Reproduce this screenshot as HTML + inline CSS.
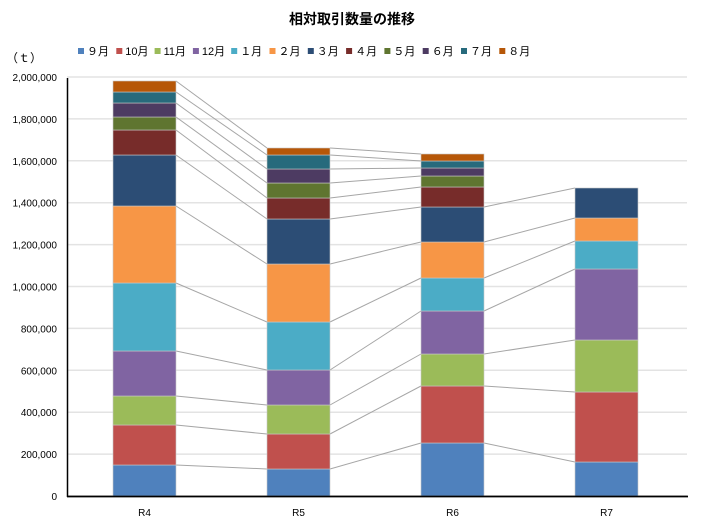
<!DOCTYPE html><html><head><meta charset="utf-8"><style>body{margin:0;background:#fff}svg{display:block;font-family:"Liberation Sans","Noto Sans CJK JP",sans-serif}</style></head><body>
<svg id="c" width="706" height="530" xmlns="http://www.w3.org/2000/svg"></svg>
<script>
var s=document.getElementById('c'),h='';
h+='<text x="352" y="24" text-anchor="middle" font-size="14" font-weight="bold">相対取引数量の推移</text>';
h+='<text x="6" y="62" font-size="12">（ｔ）</text>';
var cols=['#4F81BD','#C0504D','#9BBB59','#8064A2','#4BACC6','#F79646','#2C4D75','#772C2A','#5F7530','#4D3B62','#276A7C','#B65708'];
var names=['９月','10月','11月','12月','１月','２月','３月','４月','５月','６月','７月','８月'];
for(var i=0;i<12;i++){var x=78+i*38.3;h+='<rect x="'+x+'" y="48" width="6" height="6" fill="'+cols[i]+'"/><text x="'+(x+9)+'" y="55" font-size="11">'+names[i]+'</text>';}
for(var k=0;k<=10;k++){var y=496-k*41.9;h+='<line x1="67" x2="687" y1="'+y+'" y2="'+y+'" stroke="#e3e3e3" stroke-width="1.5"/>';h+='<text x="57" y="'+(y+4)+'" text-anchor="end" font-size="10">'+(k*200000).toLocaleString('en-US')+'</text>';}
var tops=[[465,425,396,351,283,206,155,130,117,103,92,81],[469,434,405,370,322,264,219,198,183,169,155,148],[443,386,354,311,278,242,207,187,176,168,161,154],[462,392,340,269,241,218,188]];
var xs=[113,267,421,575],w=63;
for(var b=0;b<3;b++){var n=Math.min(tops[b].length,tops[b+1].length);for(var i=0;i<n;i++)h+='<line x1="'+(xs[b]+w)+'" y1="'+tops[b][i]+'" x2="'+xs[b+1]+'" y2="'+tops[b+1][i]+'" stroke="#a6a6a6" stroke-width="1"/>';}
for(var b=0;b<4;b++){var prev=496;for(var i=0;i<tops[b].length;i++){var t=tops[b][i];h+='<rect x="'+xs[b]+'" y="'+t+'" width="'+w+'" height="'+(prev-t)+'" fill="'+cols[i]+'" stroke="#c8c8c8" stroke-width="0.6"/>';prev=t;}
h+='<text x="'+(xs[b]+w/2)+'" y="516" text-anchor="middle" font-size="10">R'+(b+4)+'</text>';}
h+='<line x1="67.5" y1="78" x2="67.5" y2="497" stroke="#000" stroke-width="1.5"/><line x1="67" y1="496.5" x2="688" y2="496.5" stroke="#000" stroke-width="1.8"/>';
s.innerHTML=h;
</script></body></html>
